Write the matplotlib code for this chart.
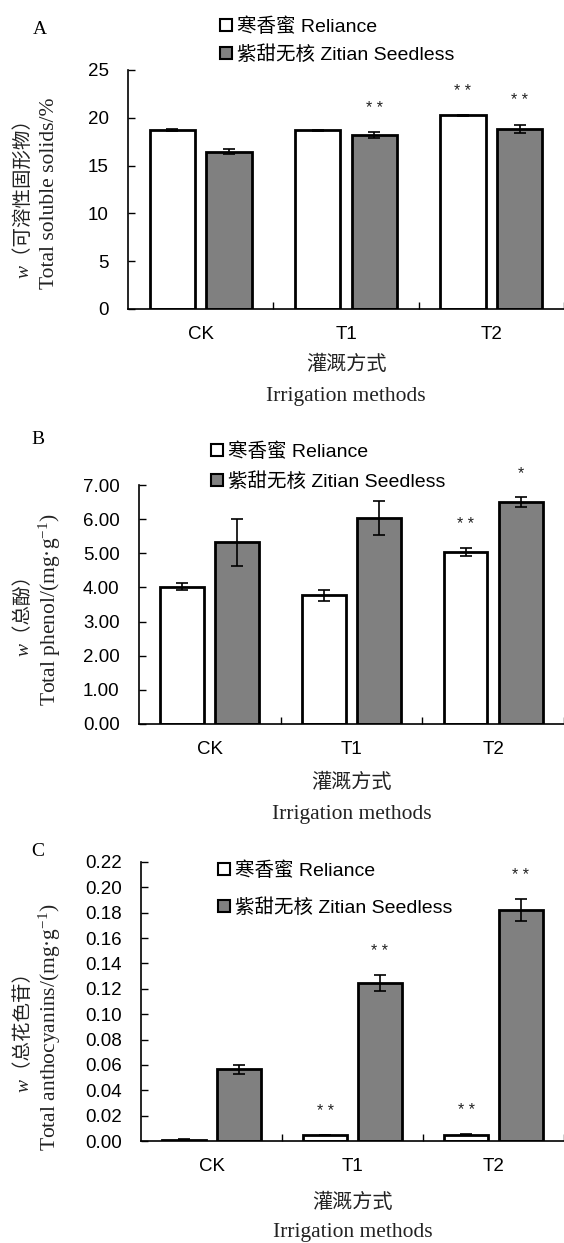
import matplotlib
matplotlib.use("Agg")
import matplotlib.pyplot as plt
from matplotlib.patches import Patch
import numpy as np

plt.rcParams['mathtext.fontset'] = 'custom'
plt.rcParams['mathtext.rm'] = 'Liberation Serif'
plt.rcParams['mathtext.it'] = 'Liberation Serif:italic'

categories = ['CK', 'T1', 'T2']
series_names = ['寒香蜜 Reliance', '紫甜无核 Zitian Seedless']

# Panel A: total soluble solids (%)
a_rel = [18.73, 18.70, 20.26]
a_rel_err = [0.08, 0.04, 0.04]
a_zit = [16.45, 18.21, 18.84]
a_zit_err = [0.26, 0.28, 0.45]
a_rel_sig = ['', '', '* *']
a_zit_sig = ['', '* *', '* *']
a_ticks = [0, 5, 10, 15, 20, 25]
a_ticklabels = ['0', '5', '10', '15', '20', '25']

# Panel B: total phenol (mg/g)
b_rel = [4.02, 3.77, 5.04]
b_rel_err = [0.10, 0.16, 0.11]
b_zit = [5.32, 6.03, 6.50]
b_zit_err = [0.69, 0.50, 0.14]
b_rel_sig = ['', '', '* *']
b_zit_sig = ['', '', '*']
b_ticks = [0, 1, 2, 3, 4, 5, 6, 7]
b_ticklabels = ['0.00', '1.00', '2.00', '3.00', '4.00', '5.00', '6.00', '7.00']

# Panel C: total anthocyanins (mg/g)
c_rel = [0.001, 0.0047, 0.0049]
c_rel_err = [0.0002, 0.0003, 0.0003]
c_zit = [0.0565, 0.1248, 0.1822]
c_zit_err = [0.0036, 0.0064, 0.0087]
c_rel_sig = ['', '* *', '* *']
c_zit_sig = ['', '* *', '* *']
c_ticks = [0, 0.02, 0.04, 0.06, 0.08, 0.10, 0.12, 0.14, 0.16, 0.18, 0.20, 0.22]
c_ticklabels = ['0.00', '0.02', '0.04', '0.06', '0.08', '0.10', '0.12', '0.14',
                '0.16', '0.18', '0.20', '0.22']

W, H = 564, 1243
fig = plt.figure(figsize=(W / 100, H / 100), dpi=100)

sans = ['Liberation Sans', 'Noto Sans CJK SC']
serif = ['Liberation Serif', 'Noto Sans CJK SC']
cjk = ['Noto Sans CJK SC']


def px_axes(l, t, r, b):
    return fig.add_axes([l / W, 1 - b / H, (r - l) / W, (b - t) / H])


def panel(ax, rel, rel_err, zit, zit_err, rel_sig, zit_sig, ticks, ticklabels,
          ymax, letter, letter_xy, ylab1, ylab2, ylab_y, leg_xy, leg_sp, xlab_y):
    x = np.arange(len(categories))
    off = 0.195
    bw = 0.31
    ekw = dict(ecolor='black', elinewidth=1.2, capsize=4.5, capthick=1.2)
    ax.bar(x - off, rel, bw, color='white', edgecolor='black', linewidth=2,
           yerr=rel_err, error_kw=ekw, zorder=2)
    ax.bar(x + off, zit, bw, color='#808080', edgecolor='black', linewidth=2,
           yerr=zit_err, error_kw=ekw, zorder=2)
    for xs, vals, errs, sigs in ((x - off, rel, rel_err, rel_sig),
                                 (x + off, zit, zit_err, zit_sig)):
        for xi, v, e, s in zip(xs, vals, errs, sigs):
            if s:
                ax.annotate(s, (xi, v + e), xytext=(0, 17), textcoords='offset points',
                            ha='center', va='center', fontsize=11.5,
                            family=['Liberation Sans'], color='#222222')
    ax.set_xlim(-0.5, 2.5)
    ax.set_ylim(0, ymax)
    ax.set_yticks(ticks)
    ax.set_yticklabels(ticklabels, family=sans, fontsize=13.5)
    ax.set_xticks([0.5, 1.5, 2.5])
    ax.set_xticklabels([])
    ax.set_xticks(x, minor=True)
    ax.set_xticklabels(categories, minor=True, family=sans, fontsize=13.5)
    ax.tick_params(axis='y', direction='in', length=5, width=1, pad=14)
    ax.tick_params(axis='x', which='major', direction='in', length=5, width=1)
    ax.tick_params(axis='x', which='minor', length=0, pad=12.5)
    for sp in ['top', 'right']:
        ax.spines[sp].set_visible(False)
    for sp in ['left', 'bottom']:
        ax.spines[sp].set_linewidth(1.2)
        ax.spines[sp].set_zorder(3)

    pos = ax.get_position()
    cx = (pos.x0 + pos.x1) / 2
    fig.text(cx, 1 - xlab_y[0] / H, '灌溉方式', family=cjk, fontsize=14.5,
             ha='center', va='center', color='#222222')
    fig.text(cx, 1 - xlab_y[1] / H, 'Irrigation methods', family=serif, fontsize=15.5,
             ha='center', va='center', color='#222222')
    fig.text(23 / W, 1 - ylab_y / H, ylab1, family=serif, style='italic', fontsize=14,
             rotation=90, ha='center', va='center', color='#222222')
    fig.text(50 / W, 1 - ylab_y / H, ylab2, family=['Liberation Serif'], fontsize=15.5,
             rotation=90, ha='center', va='center', color='#222222')
    fig.text(letter_xy[0] / W, 1 - letter_xy[1] / H, letter, family=['Liberation Serif'],
             fontsize=14, ha='center', va='center')

    handles = [Patch(facecolor='white', edgecolor='black', linewidth=1.5),
               Patch(facecolor='#808080', edgecolor='black', linewidth=1.5)]
    leg = ax.legend(handles, series_names, loc='upper left',
                    bbox_to_anchor=(leg_xy[0] / W, 1 - leg_xy[1] / H),
                    bbox_transform=fig.transFigure, frameon=False,
                    handlelength=0.6, handleheight=0.6, handletextpad=0.25,
                    labelspacing=leg_sp, borderpad=0, borderaxespad=0,
                    prop={'family': sans, 'size': 14})
    leg.set_zorder(5)


axA = px_axes(128, 70, 564, 309)
panel(axA, a_rel, a_rel_err, a_zit, a_zit_err, a_rel_sig, a_zit_sig, a_ticks, a_ticklabels,
      25, 'A', (40, 29), 'w（可溶性固形物）', 'Total soluble solids/%', 193,
      (220, 17), 0.5, (364, 396))

axB = px_axes(139, 485, 564, 724)
panel(axB, b_rel, b_rel_err, b_zit, b_zit_err, b_rel_sig, b_zit_sig, b_ticks, b_ticklabels,
      7, 'B', (38, 439), 'w（总酚）', r'Total phenol/(mg·g$^{-1}$)', 610,
      (211, 442), 0.6, (783, 815))

axC = px_axes(141, 862, 564, 1141)
panel(axC, c_rel, c_rel_err, c_zit, c_zit_err, c_rel_sig, c_zit_sig, c_ticks, c_ticklabels,
      0.22, 'C', (38, 852), 'w（总花色苷）', r'Total anthocyanins/(mg·g$^{-1}$)', 1027,
      (218, 861), 0.95, (1202, 1233))

fig.savefig('out.png', dpi=100, facecolor='white')
